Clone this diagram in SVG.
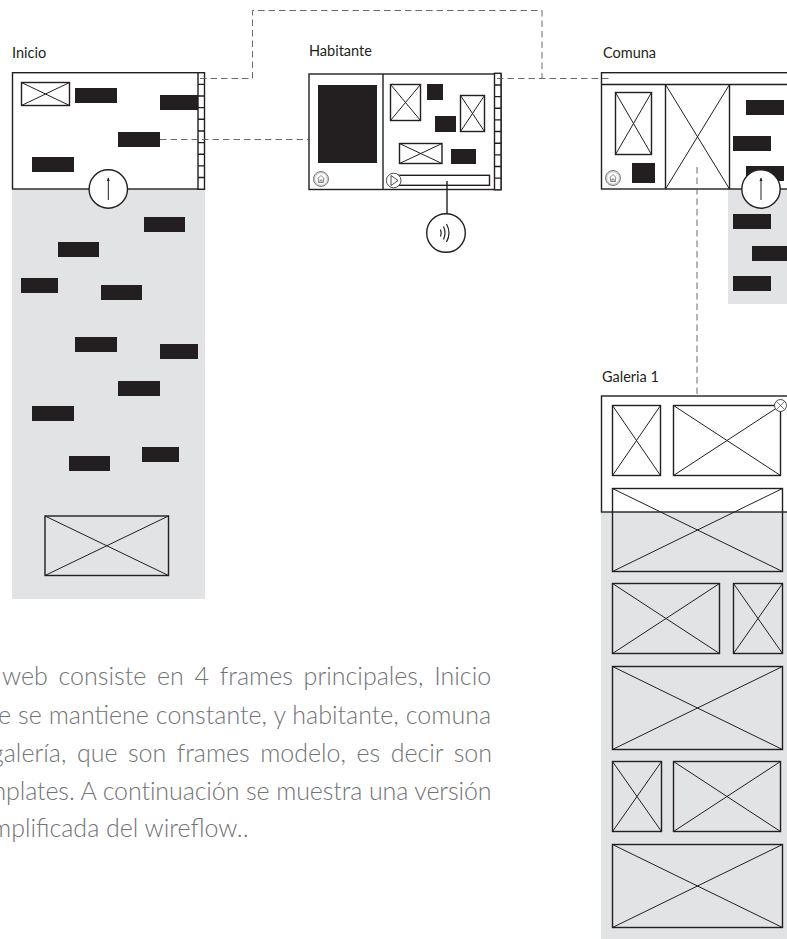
<svg xmlns="http://www.w3.org/2000/svg" width="787" height="939" viewBox="0 0 787 939">
<style>
.t{font-family:"Lato","Liberation Sans",sans-serif;font-size:14.500px;fill:#231f20}
.p{font-family:"Lato","Liberation Sans",sans-serif;font-weight:300;font-size:25px;fill:#727376}
.b{fill:#231f20}
.f{fill:#fff;stroke:#231f20;stroke-width:1.400}
.n{fill:none;stroke:#231f20;stroke-width:1.400}
.x{fill:none;stroke:#231f20;stroke-width:1}
.g{fill:#e2e3e5}
.d{fill:none;stroke:#58595b;stroke-width:0.9;stroke-dasharray:6.500 4}
</style>
<defs>
<symbol id="sb" overflow="visible"><rect class="f" x="0" y="0" width="6.500" height="116.500"/><path class="n" d="M0 11.650H6.500M0 23.300H6.500M0 34.950H6.500M0 46.600H6.500M0 58.250H6.500M0 69.900H6.500M0 81.550H6.500M0 93.200H6.500M0 104.850H6.500"/></symbol>
<g id="home"><circle cx="0" cy="0" r="7.500" fill="#fff" stroke="#231f20" stroke-width=".6"/><circle cx="0" cy="0" r="6.300" fill="none" stroke="#231f20" stroke-width=".3"/><path d="M-3.500 -.2L0-3.500L3.500 -.2M-2.500-.5V3.500H2.500V-.5M-1 3.500V1H1V3.500" fill="none" stroke="#231f20" stroke-width=".5"/></g>
</defs>
<g id="inicio">
<text class="t" x="12" y="58">Inicio</text>
<rect class="g" x="12" y="189" width="193" height="410"/>
<rect class="f" x="12.500" y="72.700" width="191.500" height="116.300"/>
<use href="#sb" x="198" y="72.700"/>
<rect class="n" x="21.500" y="82.500" width="48" height="23"/><path class="x" d="M21.500 82.500L69.500 105.500M69.500 82.500L21.500 105.500"/>
<rect class="b" x="75" y="88" width="42" height="15"/><rect class="b" x="160" y="95" width="38" height="15"/><rect class="b" x="118" y="132" width="42" height="15"/><rect class="b" x="32" y="157" width="42" height="15"/>
<circle class="f" cx="108.300" cy="189" r="19.200"/><path class="x" d="M108.300 200V178"/><path class="b" d="M108.300 177.500l-1.500 3.500h3z"/>
<rect class="b" x="144" y="217" width="41" height="15"/><rect class="b" x="58" y="242" width="41" height="15"/><rect class="b" x="21" y="278" width="37" height="15"/><rect class="b" x="101" y="285" width="41" height="15"/>
<rect class="b" x="75" y="337" width="42" height="15"/><rect class="b" x="160" y="344" width="38" height="15"/><rect class="b" x="118" y="381" width="42" height="15"/><rect class="b" x="32" y="406" width="42" height="15"/><rect class="b" x="142" y="447" width="37" height="15"/><rect class="b" x="69" y="456" width="41" height="15"/>
<rect class="n" x="45" y="516" width="123.500" height="59.500"/><path class="x" d="M45 516L168.500 575.500M168.500 516L45 575.500"/>
</g>
<g id="habitante">
<text class="t" x="309" y="56">Habitante</text>
<rect class="f" x="309" y="74" width="192" height="115.500"/>
<path class="n" d="M383 74V189.500"/>
<use href="#sb" x="494.500" y="73.300"/>
<rect class="b" x="318" y="85" width="59" height="78"/>
<use href="#home" x="321" y="179"/>
<rect class="n" x="390.500" y="84.500" width="30" height="36"/><path class="x" d="M390.500 84.500L420.500 120.500M420.500 84.500L390.500 120.500"/>
<rect class="b" x="427" y="84" width="16" height="16"/><rect class="b" x="435" y="116" width="21" height="16"/>
<rect class="n" x="460.500" y="95.500" width="24" height="36"/><path class="x" d="M460.500 95.500L484.500 131.500M484.500 95.500L460.500 131.500"/>
<rect class="n" x="399.500" y="143.500" width="42.500" height="20"/><path class="x" d="M399.500 143.500L442 163.500M442 143.500L399.500 163.500"/>
<rect class="b" x="451" y="149" width="25" height="15"/>
<rect class="n" x="393" y="175.300" width="96.500" height="10"/>
<circle cx="393.700" cy="180.500" r="7.300" fill="#fff" stroke="#231f20" stroke-width=".8"/><path d="M391 175.500L398 180.500L391 185.500Z" fill="none" stroke="#231f20" stroke-width=".8"/>
<path class="n" d="M447 181V214"/>
<circle class="f" cx="446" cy="233" r="19.300"/>
<path d="M440.500 229.500q1.500 3.500 0 7M443.500 226.500q3 6.500 0 13M446.500 224q5 9 0 18" fill="none" stroke="#231f20" stroke-width="1.200"/>
</g>
<g id="comuna">
<text class="t" x="603" y="58">Comuna</text>
<rect class="g" x="728" y="189" width="59" height="115"/>
<rect class="f" x="601.500" y="72.700" width="190" height="116.300"/>
<path class="n" d="M601 84.500H790M665.500 84.500V189M729.500 84.500V189"/>
<rect class="n" x="615.500" y="92.500" width="36" height="62"/><path class="x" d="M615.500 92.500L651.500 154.500M651.500 92.500L615.500 154.500"/>
<path class="x" d="M665.500 84.500L729.500 189M729.500 84.500L665.500 189"/>
<use href="#home" x="613" y="178"/>
<rect class="b" x="632" y="163" width="23" height="20"/>
<rect class="b" x="746" y="100" width="38" height="15"/><rect class="b" x="733" y="136" width="38" height="15"/><rect class="b" x="746" y="166" width="38" height="15"/>
<circle class="f" cx="761" cy="189" r="19.200"/><path class="x" d="M761 200V178"/><path class="b" d="M761 177.500l-1.500 3.500h3z"/>
<rect class="b" x="733" y="214" width="38" height="15"/><rect class="b" x="752" y="246" width="35" height="15"/><rect class="b" x="733" y="276" width="38" height="15"/>
</g>
<g id="galeria">
<text class="t" x="602" y="382">Galeria 1</text>
<rect class="g" x="601" y="512" width="186" height="427"/>
<rect class="n" x="601.500" y="396" width="190" height="116"/>
<g id="galeria-images">
<rect class="n" x="612.500" y="405.500" width="48" height="70"/><path class="x" d="M612.500 405.500L660.500 475.500M660.500 405.500L612.500 475.500"/>
<rect class="n" x="673.500" y="405.500" width="107" height="70"/><path class="x" d="M673.500 405.500L780.500 475.500M780.500 405.500L673.500 475.500"/>
<rect class="n" x="612.500" y="488.500" width="170" height="83"/><path class="x" d="M612.500 488.500L782.500 571.500M782.500 488.500L612.500 571.500"/>
<rect class="n" x="612.500" y="583.500" width="107" height="70"/><path class="x" d="M612.500 583.500L719.500 653.500M719.500 583.500L612.500 653.500"/>
<rect class="n" x="733.500" y="583.500" width="49" height="70"/><path class="x" d="M733.500 583.500L782.500 653.500M782.500 583.500L733.500 653.500"/>
<rect class="n" x="612.500" y="666.500" width="170" height="83"/><path class="x" d="M612.500 666.500L782.500 749.500M782.500 666.500L612.500 749.500"/>
<rect class="n" x="612.500" y="761.500" width="49" height="70"/><path class="x" d="M612.500 761.500L661.500 831.500M661.500 761.500L612.500 831.500"/>
<rect class="n" x="673.500" y="761.500" width="107" height="70"/><path class="x" d="M673.500 761.500L780.500 831.500M780.500 761.500L673.500 831.500"/>
<rect class="n" x="612.500" y="844.500" width="170" height="83"/><path class="x" d="M612.500 844.500L782.500 927.500M782.500 844.500L612.500 927.500"/>
</g>
<circle cx="780.500" cy="405.500" r="6" fill="#fff" stroke="#231f20" stroke-width=".8"/><path d="M776.500 401.500L784.500 409.500M784.500 401.500L776.500 409.500" fill="none" stroke="#231f20" stroke-width=".6"/>
</g>
<g id="connectors">
<path class="d" d="M200 78.500H252.500V10.500H542V78.500"/>
<path class="d" d="M160 139.500H309"/>
<path class="d" d="M497 78.500H611"/>
<path class="d" d="M697 167V394"/>
</g>
<g id="intro">
<text class="p" x="2" y="685" word-spacing="4">web consiste en 4 frames principales, Inicio</text>
<text class="p" x="-2" y="724" word-spacing="0.200">e se mantiene constante, y habitante, comuna</text>
<text class="p" x="-9" y="762" word-spacing="3.700">galería, que son frames modelo, es decir son</text>
<text class="p" x="-14" y="800" letter-spacing="-0.100">mplates. A continuación se muestra una versión</text>
<text class="p" x="-9" y="837">mplificada del wireflow..</text>
</g>
</svg>
